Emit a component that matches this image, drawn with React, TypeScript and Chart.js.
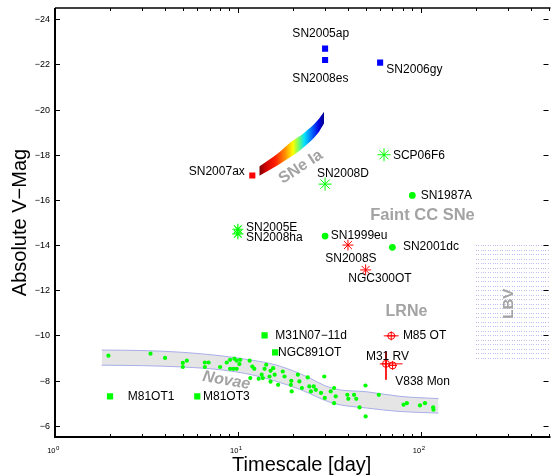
import React, { useEffect, useRef } from "react";
import { Chart, registerables } from "chart.js";

Chart.register(...registerables);

const FONT = '"Liberation Sans", Arial, Helvetica, sans-serif';

// Axis ranges / ticks
const X_MIN = 1;
const X_MAX = 500;
const Y_MIN = -24.5;
const Y_MAX = -5.5;
const yTickValues = [-24, -22, -20, -18, -16, -14, -12, -10, -8, -6];
const xMajorTicks = [1, 10, 100];
const xTickExponents = ["0", "1", "2"];
const xMinorMultipliers = [2, 3, 4, 5, 6, 7, 8, 9];

// Blue squares (SN2005ap, SN2008es, SN2006gy)
const blueSqX = [30, 30, 60];
const blueSqY = [-22.7, -22.2, -22.08];
// Red square (SN2007ax)
const redSqX = [12];
const redSqY = [-17.08];
// Green squares (M31N07-11d, NGC891OT, M81OT1, M81OT3)
const greenSqX = [14, 16, 2, 6];
const greenSqY = [-10.0, -9.25, -7.3, -7.3];
// Green circles (SN1987A, SN1999eu, SN2001dc)
const greenCircX = [90, 30, 70];
const greenCircY = [-16.2, -14.4, -13.9];
// Green asterisks
const greenStarBigX = [63, 30];
const greenStarBigY = [-18.0, -16.7];
const greenStarSmallX = [10, 10];
const greenStarSmallY = [-14.7, -14.5];
// Red asterisks (SN2008S, NGC300OT)
const redStarX = [40, 50];
const redStarY = [-14.0, -12.9];
// Red circled crosses (M85 OT, M31 RV, V838 Mon)
const redCircX = [69, 64.6, 70.2];
const redCircY = [-9.98, -8.74, -8.67];
// Error bars
const errHY = [-9.98, -8.74];
const errHLo = [62.8, 59.7];
const errHHi = [75.8, 79.6];
const errVX = [64.6];
const errVLo = [-9.29];
const errVHi = [-8.04];

// Novae points
const novaeX = [
  1.96, 3.33, 4.0, 5.0, 5.0, 5.26, 6.6, 6.92, 6.6, 8.0, 8.7,
  9.07, 9.57, 9.85, 10.3, 10.2, 9.07, 9.45, 9.85, 11.6, 12.0, 12.3, 11.7, 13.0, 13.5, 13.7, 14.0,
  14.3, 14.9, 15.1, 15.1, 15.6, 15.9, 16.6, 17.6, 18.0, 19.6, 19.5, 19.7, 21.3, 21.7, 22.4, 24.1,
  24.6, 25.1, 26.0, 26.7, 28.5, 29.9, 29.7, 32.2, 33.6,
  34.3, 33.6, 39.7, 40.2, 43.2, 44.4, 46.3, 49.9, 50, 59.0, 80.6, 84.0, 99.1, 105.5, 117, 117.5,
];
const novaeY = [
  -9.1, -9.19, -9.0, -8.78, -8.6, -8.88, -8.8, -8.8, -8.6, -8.6, -8.8,
  -8.92, -8.97, -8.88, -8.92, -8.73, -8.52, -8.52, -8.52, -8.88, -8.62, -8.52, -8.11, -8.08, -8.26, -8.11, -8.52,
  -8.7, -8.18, -8.43, -7.95, -8.55, -8.26, -7.81, -8.4, -8.18, -7.99, -7.81, -7.52, -8.26, -7.96, -7.67, -8.14,
  -7.74, -7.52, -7.74, -7.59, -7.45, -7.23, -8.18, -7.52, -7.67,
  -7.3, -7.0, -7.37, -7.19, -7.37, -7.19, -6.81, -7.78, -6.41, -7.37, -6.93, -7.0, -6.9, -7.0, -6.81, -6.71,
];

// Novae band
const novaeBandX = [1.8, 3, 5, 8, 12, 16, 22, 33, 51, 77, 125];
const novaeBandTop = [-9.35, -9.33, -9.25, -9.1, -8.9, -8.7, -8.3, -7.65, -7.5, -7.3, -7.2];
const novaeBandBottom = [-8.68, -8.66, -8.6, -8.48, -8.25, -7.98, -7.6, -7.0, -6.78, -6.63, -6.56];

// SNe Ia band
const sneIaX = [13.1, 16.6, 19.6, 23.1, 27.4, 29.6];
const sneIaTop = [-17.48, -18.07, -18.58, -18.98, -19.54, -19.91];
const sneIaBottom = [-17.07, -17.55, -17.92, -18.36, -18.95, -19.4];

// LBV region
const lbvX = [200, 500];
const lbvY = [-14, -9];

// Point labels
const labelText = [
  "SN2005ap", "SN2008es", "SN2006gy", "SN2007ax", "SCP06F6", "SN2008D", "SN1987A",
  "SN2005E", "SN2008ha", "SN1999eu", "SN2008S", "SN2001dc", "NGC300OT",
  "M31N07\u221211d", "M85 OT", "NGC891OT", "M31 RV", "V838 Mon", "M81OT1", "M81OT3",
];
const labelX = [19.87, 19.87, 64.9, 5.39, 70.5, 27.07, 100, 11.08, 11.08, 32.2, 30.06, 79.9, 40.2, 16.03, 79.9, 16.58, 50.15, 72.6, 2.5, 6.45];
const labelY = [-23.35, -21.36, -21.76, -17.23, -17.96, -17.17, -16.19, -14.79, -14.32, -14.43, -13.38, -13.91, -12.49, -9.98, -9.98, -9.24, -9.07, -7.95, -7.3, -7.3];

// Region labels (centred)
const regionText = ["SNe Ia", "Faint CC SNe", "LRNe", "LBV", "Novae"];
const regionX = [22.1, 102.3, 83.6, 302.5, 8.66];
const regionY = [-17.46, -15.29, -11.06, -11.4, -8.0];

const pts = (xs: number[], ys: number[]) => xs.map((x, i) => ({ x, y: ys[i] }));

export default function App() {
  const ref = useRef<HTMLCanvasElement>(null);

  useEffect(() => {
    document.body.style.margin = "0";
    const canvas = ref.current!;

    const RED = "#ff0000";
    const GREEN = "#00ff00";
    const BLUE = "#0000ff";

    const errorBarSets: any[] = [];
    errHY.forEach((y, i) => {
      errorBarSets.push({
        type: "line",
        data: [{ x: errHLo[i], y }, { x: errHHi[i], y }],
        borderColor: RED,
        borderWidth: 1,
        pointRadius: 0,
        fill: false,
      });
    });
    errVX.forEach((x, i) => {
      errorBarSets.push({
        type: "line",
        data: [{ x, y: errVLo[i] }, { x, y: errVHi[i] }],
        borderColor: RED,
        borderWidth: 1,
        pointRadius: 0,
        fill: false,
      });
    });

    const sneIaGradient = (ctx: any) => {
      const chart = ctx.chart;
      if (!chart.chartArea || !chart.scales.x) return "#ff8000";
      const xs = chart.scales.x;
      const g = chart.ctx.createLinearGradient(
        xs.getPixelForValue(sneIaX[0]), 0,
        xs.getPixelForValue(sneIaX[sneIaX.length - 1]), 0
      );
      g.addColorStop(0, "#7a0000");
      g.addColorStop(0.1, "#d00000");
      g.addColorStop(0.25, "#ff2000");
      g.addColorStop(0.4, "#ff9000");
      g.addColorStop(0.52, "#ffff00");
      g.addColorStop(0.6, "#80ff60");
      g.addColorStop(0.7, "#00e0ff");
      g.addColorStop(0.82, "#0060ff");
      g.addColorStop(0.92, "#0000e0");
      g.addColorStop(1, "#00008a");
      return g;
    };

    const datasets: any[] = [
      {
        type: "scatter",
        data: pts(redCircX, redCircY),
        pointStyle: "circle",
        pointRadius: 3.5,
        backgroundColor: "rgba(0,0,0,0)",
        borderColor: RED,
        borderWidth: 1,
      },
      {
        type: "scatter",
        data: pts(redCircX, redCircY),
        pointStyle: "cross",
        pointRadius: 4.5,
        borderColor: RED,
        borderWidth: 1,
      },
      ...errorBarSets,
      {
        type: "scatter",
        data: pts(redStarX, redStarY),
        pointStyle: "star",
        pointRadius: 5.5,
        borderColor: RED,
        borderWidth: 1,
      },
      {
        type: "scatter",
        data: pts(greenStarBigX, greenStarBigY),
        pointStyle: "star",
        pointRadius: 6.5,
        borderColor: GREEN,
        borderWidth: 1,
      },
      {
        type: "scatter",
        data: pts(greenStarSmallX, greenStarSmallY),
        pointStyle: "star",
        pointRadius: 5.5,
        borderColor: GREEN,
        borderWidth: 1.2,
      },
      {
        type: "scatter",
        data: pts(blueSqX, blueSqY),
        pointStyle: "rect",
        pointRadius: 4.3,
        backgroundColor: BLUE,
        borderColor: BLUE,
        borderWidth: 0,
      },
      {
        type: "scatter",
        data: pts(redSqX, redSqY),
        pointStyle: "rect",
        pointRadius: 4.3,
        backgroundColor: RED,
        borderColor: RED,
        borderWidth: 0,
      },
      {
        type: "scatter",
        data: pts(greenSqX, greenSqY),
        pointStyle: "rect",
        pointRadius: 4.4,
        backgroundColor: GREEN,
        borderColor: GREEN,
        borderWidth: 0,
      },
      {
        type: "scatter",
        data: pts(greenCircX, greenCircY),
        pointStyle: "circle",
        pointRadius: 3.4,
        backgroundColor: GREEN,
        borderColor: GREEN,
        borderWidth: 0,
      },
      {
        type: "scatter",
        data: pts(novaeX, novaeY),
        pointStyle: "circle",
        pointRadius: 2.1,
        backgroundColor: GREEN,
        borderColor: GREEN,
        borderWidth: 0,
      },
      {
        type: "line",
        data: pts(sneIaX, sneIaTop),
        borderWidth: 0,
        borderColor: "rgba(0,0,0,0)",
        pointRadius: 0,
        cubicInterpolationMode: "monotone",
        fill: "+1",
        backgroundColor: sneIaGradient,
      },
      {
        type: "line",
        data: pts(sneIaX, sneIaBottom),
        borderWidth: 0,
        borderColor: "rgba(0,0,0,0)",
        pointRadius: 0,
        cubicInterpolationMode: "monotone",
        fill: false,
      },
      {
        type: "line",
        data: pts(novaeBandX, novaeBandTop),
        borderWidth: 1,
        borderColor: "#a9aee8",
        pointRadius: 0,
        cubicInterpolationMode: "monotone",
        fill: "+1",
        backgroundColor: "#e5e5e5",
      },
      {
        type: "line",
        data: pts(novaeBandX, novaeBandBottom),
        borderWidth: 1,
        borderColor: "#a9aee8",
        pointRadius: 0,
        cubicInterpolationMode: "monotone",
        fill: false,
      },
    ];

    const lbvPlugin = {
      id: "lbv",
      beforeDatasetsDraw(chart: any) {
        const { ctx, scales } = chart;
        const xs = scales.x, ys = scales.y;
        const x0 = xs.getPixelForValue(lbvX[0]);
        const x1 = xs.getPixelForValue(lbvX[1]);
        const yA = ys.getPixelForValue(lbvY[0]);
        const yB = ys.getPixelForValue(lbvY[1]);
        const top = Math.min(yA, yB), bottom = Math.max(yA, yB);
        ctx.save();
        ctx.fillStyle = "rgba(140,140,225,0.55)";
        for (let py = top; py <= bottom + 0.1; py += 4.5) {
          for (let px = x0; px < x1; px += 2.4) {
            ctx.fillRect(Math.round(px), Math.round(py), 1, 1);
          }
        }
        ctx.restore();
      },
    };

    const textPlugin = {
      id: "texts",
      afterDatasetsDraw(chart: any) {
        const { ctx, scales, chartArea } = chart;
        const xs = scales.x, ys = scales.y;
        ctx.save();
        // point labels
        ctx.fillStyle = "#000";
        ctx.font = `12px ${FONT}`;
        ctx.textAlign = "left";
        ctx.textBaseline = "middle";
        labelText.forEach((t, i) => {
          ctx.fillText(t, xs.getPixelForValue(labelX[i]), ys.getPixelForValue(labelY[i]));
        });
        // region labels
        const regionStyle = [
          { rot: -33, font: `bold 16px ${FONT}` },
          { rot: 0, font: `bold 16.5px ${FONT}` },
          { rot: 0, font: `bold 16px ${FONT}` },
          { rot: -90, font: `bold 15px ${FONT}` },
          { rot: 10, font: `italic bold 16px ${FONT}` },
        ];
        ctx.fillStyle = "#a3a3a3";
        ctx.textAlign = "center";
        regionText.forEach((t, i) => {
          ctx.save();
          ctx.translate(xs.getPixelForValue(regionX[i]), ys.getPixelForValue(regionY[i]));
          ctx.rotate((regionStyle[i].rot * Math.PI) / 180);
          ctx.font = regionStyle[i].font;
          ctx.fillText(t, 0, 0);
          ctx.restore();
        });

        // ticks
        const L = chartArea.left, R = chartArea.right, T = chartArea.top, B = chartArea.bottom;
        ctx.strokeStyle = "#000";
        ctx.lineWidth = 1;
        ctx.beginPath();
        yTickValues.forEach((v) => {
          const py = Math.round(ys.getPixelForValue(v)) + 0.5;
          ctx.moveTo(L, py);
          ctx.lineTo(L + 5, py);
          ctx.moveTo(R - 5, py);
          ctx.lineTo(R, py);
        });
        xMajorTicks.forEach((v) => {
          const px = Math.round(xs.getPixelForValue(v)) + 0.5;
          ctx.moveTo(px, B);
          ctx.lineTo(px, B - 5);
          ctx.moveTo(px, T);
          ctx.lineTo(px, T + 5);
          xMinorMultipliers.forEach((m) => {
            const mv = v * m;
            if (mv > X_MAX) return;
            const mx = Math.round(xs.getPixelForValue(mv)) + 0.5;
            ctx.moveTo(mx, B);
            ctx.lineTo(mx, B - 3);
            ctx.moveTo(mx, T);
            ctx.lineTo(mx, T + 3);
          });
        });
        ctx.stroke();

        // axis lines
        ctx.lineWidth = 2;
        ctx.beginPath();
        ctx.moveTo(L, T);
        ctx.lineTo(L, B + 1);
        ctx.moveTo(L - 1, B);
        ctx.lineTo(R + 2, B);
        ctx.stroke();
        ctx.lineWidth = 1.5;
        ctx.beginPath();
        ctx.moveTo(L, T);
        ctx.lineTo(R + 2, T);
        ctx.stroke();

        // y tick labels
        ctx.fillStyle = "#000";
        ctx.font = `9px ${FONT}`;
        ctx.textAlign = "right";
        ctx.textBaseline = "middle";
        yTickValues.forEach((v) => {
          ctx.fillText("\u2212" + Math.abs(v), L - 5, ys.getPixelForValue(v) + 0.5);
        });
        // x tick labels
        ctx.textBaseline = "alphabetic";
        xMajorTicks.forEach((v, i) => {
          const px = xs.getPixelForValue(v);
          ctx.font = `7.5px ${FONT}`;
          ctx.textAlign = "right";
          ctx.fillText("10", px + 0.5, B + 16);
          ctx.font = `6px ${FONT}`;
          ctx.textAlign = "left";
          ctx.fillText(xTickExponents[i], px + 1, B + 12.5);
        });

        // axis titles
        ctx.font = `20px ${FONT}`;
        ctx.textAlign = "center";
        ctx.fillText("Timescale [day]", (L + R) / 2, 470.5);
        ctx.save();
        ctx.translate(26, (T + B) / 2);
        ctx.rotate(-Math.PI / 2);
        ctx.fillText("Absolute V\u2212Mag", 0, 0);
        ctx.restore();

        ctx.restore();
      },
    };

    const chart = new Chart(canvas, {
      type: "scatter",
      data: { datasets },
      options: {
        responsive: false,
        devicePixelRatio: 1,
        animation: false,
        events: [],
        layout: { padding: { top: 8, right: 3, left: 0, bottom: 0 } },
        plugins: {
          legend: { display: false },
          tooltip: { enabled: false },
          filler: { drawTime: "beforeDatasetsDraw" },
        },
        scales: {
          x: {
            type: "logarithmic",
            min: X_MIN,
            max: X_MAX,
            ticks: { display: false },
            grid: { display: false },
            border: { display: false },
            afterFit: (s: any) => {
              s.height = 39;
            },
          },
          y: {
            type: "linear",
            min: Y_MIN,
            max: Y_MAX,
            reverse: true,
            ticks: { display: false },
            grid: { display: false },
            border: { display: false },
            afterFit: (s: any) => {
              s.width = 55;
            },
          },
        },
      } as any,
      plugins: [lbvPlugin, textPlugin],
    });
    return () => chart.destroy();
  }, []);

  return (
    <div
      style={{
        position: "absolute",
        left: 0,
        top: 0,
        width: 552,
        height: 476,
        overflow: "hidden",
        background: "#fff",
      }}
    >
      <canvas ref={ref} width={556} height={476} style={{ width: 556, height: 476, display: "block" }} />
    </div>
  );
}
